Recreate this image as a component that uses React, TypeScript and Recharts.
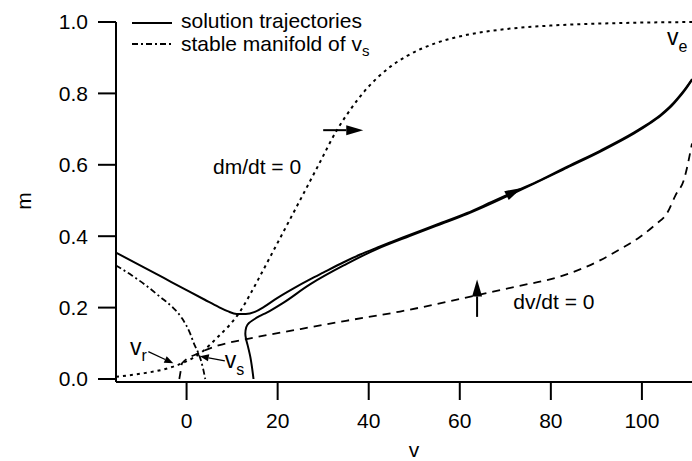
import { LineChart, Line, XAxis, YAxis, ReferenceLine, ReferenceDot } from "recharts";

const FONT = "'Liberation Sans', Arial, Helvetica, sans-serif";

// dm/dt = 0 nullcline (dotted)
const mNullV = [-15.5, -10, -5, -1, 3, 7.2, 9.5, 11.8, 14, 16.2, 18.4, 22, 25.3, 29, 33, 36, 39, 42, 45, 48.4, 55, 61.6, 70, 80, 95, 111];
const mNullM = [0.006, 0.015, 0.027, 0.044, 0.072, 0.122, 0.152, 0.19, 0.238, 0.29, 0.343, 0.43, 0.51, 0.6, 0.697, 0.755, 0.805, 0.845, 0.877, 0.905, 0.942, 0.964, 0.98, 0.99, 0.997, 1.0];

// dv/dt = 0 nullcline (dashed)
const vNullV = [-1.6, -1.3, -1.0, 2.6, 7, 12.9, 25, 35, 46.9, 55, 63.8, 72, 82, 90.9, 95, 99.7, 103, 105.5, 107.4, 109.2, 111];
const vNullM = [0, 0.022, 0.044, 0.072, 0.094, 0.111, 0.14, 0.163, 0.189, 0.21, 0.235, 0.258, 0.287, 0.333, 0.362, 0.399, 0.433, 0.464, 0.515, 0.557, 0.66];

// solution trajectories (solid)
const traj1V = [-15.5, -10, -5, 0, 4, 7, 9, 11, 13, 15, 17, 19.8, 23.5, 27.1, 30, 34.5, 38, 41.8, 45, 49.1, 55, 61.6, 67, 72.6, 77.7, 83.6, 90.9, 98.2, 100, 102, 104, 106, 108, 109.5, 111];
const traj1M = [0.354, 0.317, 0.283, 0.249, 0.222, 0.202, 0.19, 0.182, 0.182, 0.188, 0.202, 0.226, 0.254, 0.279, 0.298, 0.327, 0.348, 0.368, 0.384, 0.404, 0.433, 0.465, 0.496, 0.528, 0.557, 0.595, 0.64, 0.69, 0.704, 0.7205, 0.739, 0.761, 0.789, 0.813, 0.84];

const traj2V = [14.7, 14.4, 14, 13.5, 13.1, 12.9, 13.1, 13.7, 14.7, 16, 17.6, 21.3, 27.1, 34.5, 41.8, 49.1, 55, 61.6, 72.6, 83.6, 90.9, 98.2, 102, 104, 106, 108, 109.5, 111];
const traj2M = [0, 0.03, 0.062, 0.09, 0.11, 0.127, 0.145, 0.157, 0.166, 0.176, 0.186, 0.214, 0.265, 0.318, 0.364, 0.401, 0.43, 0.462, 0.525, 0.592, 0.637, 0.687, 0.718, 0.736, 0.758, 0.786, 0.81, 0.838];

// stable manifold of v_s (dash-dot)
const manV = [-15.5, -12, -9, -6, -3, -1, 0.8, 1.6, 2.6, 3.2, 3.7, 4.1];
const manM = [0.318, 0.29, 0.263, 0.232, 0.2, 0.17, 0.127, 0.1, 0.072, 0.05, 0.025, 0];

const xTicks = [0, 20, 40, 60, 80, 100];
const yTicks = [0, 0.2, 0.4, 0.6, 0.8, 1.0];

const pts = (vs: number[], ms: number[]) => vs.map((v, i) => ({ v, m: ms[i] }));

const DOTTED = "3 4";
const DASHED = "8 6";
const DASHDOT = "6 3 2 3";

function arrow(headLen: number, halfW: number, width: number, headOnly = false) {
  return (p: any) => {
    const { x1, y1, x2, y2 } = p;
    const dx = x2 - x1;
    const dy = y2 - y1;
    const L = Math.hypot(dx, dy) || 1;
    const ux = dx / L;
    const uy = dy / L;
    const bx = x2 - ux * headLen;
    const by = y2 - uy * headLen;
    const poly = `${x2},${y2} ${bx - uy * halfW},${by + ux * halfW} ${bx + uy * halfW},${by - ux * halfW}`;
    return (
      <g>
        {headOnly ? null : <line x1={x1} y1={y1} x2={bx} y2={by} stroke="#000" strokeWidth={width} />}
        <polygon points={poly} fill="#000" />
      </g>
    );
  };
}

function label(main: string, sub: string | null, size: number, subSize = 15, subDy = 6) {
  return (p: any) => (
    <text x={p.cx} y={p.cy} fontFamily={FONT} fontSize={size} fill="#000">
      {main}
      {sub ? (
        <tspan dy={subDy} fontSize={subSize}>
          {sub}
        </tspan>
      ) : null}
    </text>
  );
}

const axisStyle = { stroke: "#000", strokeWidth: 2 };
const tickStyle = { fontSize: 21, fill: "#000", fontFamily: FONT };

export default function App() {
  return (
    <div style={{ position: "relative", width: 692, height: 461, background: "#fff" }}>
      <style>{"body{margin:0}"}</style>
      <LineChart width={692} height={461} margin={{ top: 22, right: 0, bottom: 0, left: 0 }}>
        <XAxis
          dataKey="v"
          type="number"
          domain={[-15.5, 111]}
          ticks={xTicks}
          interval={0}
          height={79}
          tickSize={18}
          tickMargin={13}
          axisLine={axisStyle}
          tickLine={axisStyle}
          tick={tickStyle}
        />
        <YAxis
          type="number"
          domain={[-0.0084, 1]}
          ticks={yTicks}
          interval={0}
          width={116}
          tickSize={18}
          tickMargin={10}
          tickFormatter={(t: number) => t.toFixed(1)}
          axisLine={axisStyle}
          tickLine={axisStyle}
          tick={tickStyle}
        />
        <Line data={pts(mNullV, mNullM)} dataKey="m" type="monotone" stroke="#000" strokeWidth={2} strokeDasharray={DOTTED} dot={false} isAnimationActive={false} />
        <Line data={pts(vNullV, vNullM)} dataKey="m" type="monotone" stroke="#000" strokeWidth={1.8} strokeDasharray={DASHED} dot={false} isAnimationActive={false} />
        <Line data={pts(manV, manM)} dataKey="m" type="monotone" stroke="#000" strokeWidth={1.8} strokeDasharray={DASHDOT} dot={false} isAnimationActive={false} />
        <Line data={pts(traj1V, traj1M)} dataKey="m" type="monotone" stroke="#000" strokeWidth={2} dot={false} isAnimationActive={false} />
        <Line data={pts(traj2V, traj2M)} dataKey="m" type="monotoneY" stroke="#000" strokeWidth={2} dot={false} isAnimationActive={false} />

        {/* direction arrows */}
        <ReferenceLine segment={[{ x: 30, y: 0.697 }, { x: 38.8, y: 0.697 }]} shape={arrow(17, 5, 2)} />
        <ReferenceLine segment={[{ x: 63.8, y: 0.174 }, { x: 63.8, y: 0.279 }]} shape={arrow(17, 5, 2)} />
        <ReferenceLine segment={[{ x: 68.6, y: 0.503 }, { x: 73.6, y: 0.535 }]} shape={arrow(17, 5, 2, true)} />
        <ReferenceLine segment={[{ x: -8.4, y: 0.0765 }, { x: -2.9, y: 0.044 }]} shape={arrow(9, 3.5, 1.3)} />
        <ReferenceLine segment={[{ x: 8.4, y: 0.051 }, { x: 2.9, y: 0.064 }]} shape={arrow(9, 3.5, 1.3)} />

        {/* annotations */}
        <ReferenceDot x={5.8} y={0.574} r={0} shape={label("dm/dt = 0", null, 21)} />
        <ReferenceDot x={71.75} y={0.195} r={0} shape={label("dv/dt = 0", null, 21)} />
        <ReferenceDot x={-12.4} y={0.067} r={0} shape={label("v", "r", 23, 16, 6)} />
        <ReferenceDot x={8.4} y={0.031} r={0} shape={label("v", "s", 23, 16, 7)} />
        <ReferenceDot x={105.5} y={0.936} r={0} shape={label("v", "e", 23, 16, 7)} />
      </LineChart>
      <svg width={692} height={461} style={{ position: "absolute", left: 0, top: 0, pointerEvents: "none" }}>
        <line x1={132} y1={23} x2={172} y2={23} stroke="#000" strokeWidth={1.8} />
        <text x={181} y={28} fontFamily={FONT} fontSize={21} fill="#000">solution trajectories</text>
        <line x1={132} y1={44} x2={172} y2={44} stroke="#000" strokeWidth={1.8} strokeDasharray={DASHDOT} />
        <text x={181} y={51} fontFamily={FONT} fontSize={21} fill="#000">
          stable manifold of v<tspan dy={5} fontSize={15}>s</tspan>
        </text>
        <text x={414} y={457} fontFamily={FONT} fontSize={21} fill="#000" textAnchor="middle">v</text>
        <text x={31} y={201} fontFamily={FONT} fontSize={21} fill="#000" textAnchor="middle" transform="rotate(-90 31 201)">m</text>
      </svg>
    </div>
  );
}
